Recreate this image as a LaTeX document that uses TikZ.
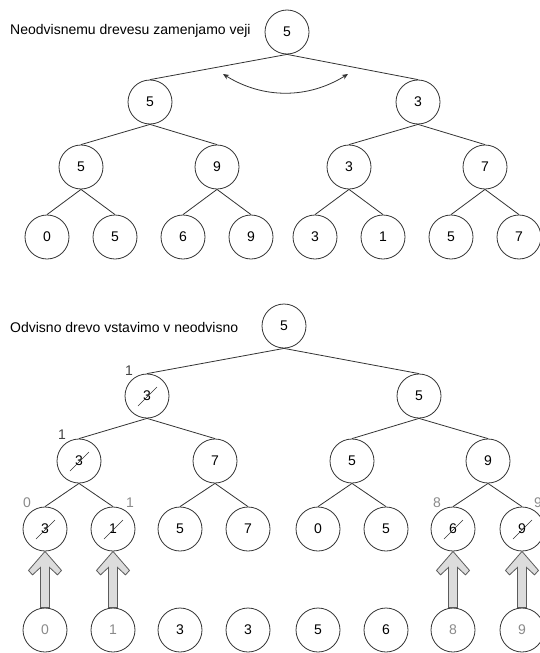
\documentclass[tikz,border=0pt]{standalone}
\usepackage{fontspec}
\setmainfont{Liberation Sans}
\usetikzlibrary{arrows.meta,calc}
\definecolor{linec}{HTML}{333333}
\definecolor{grayt}{HTML}{8A8A8A}
\definecolor{lblc}{HTML}{444444}
\definecolor{arrfill}{HTML}{DCDCDC}
\newcommand\strikeit[1]{\draw[strk] ($(#1)+(-9,10)$) -- ($(#1)+(10,-9)$);}
\newcommand\blockarr[2]{\draw[blk] (#1.south) -- ++(16.5,19) -- ++(-4,4.5) -- ++(-8,-7.5) -- ($(#2.north)+(4.5,0)$) -- ++(-9,0) -- ($(#1.south)+(-4.5,16)$) -- ++(-8,7.5) -- ++(-4,-4.5) -- cycle;}
\begin{document}
\begin{tikzpicture}[x=1pt,y=-1pt,
  nd/.style={circle,draw=linec,line width=0.8pt,minimum size=44pt,inner sep=0pt,font=\fontsize{14}{16}\selectfont,text=black},
  gnd/.style={nd,text=grayt},
  edge/.style={draw=linec,line width=0.8pt},
  strk/.style={draw=linec,line width=0.5pt},
  lbl/.style={font=\fontsize{14}{16}\selectfont,inner sep=0pt},
  title/.style={font=\fontsize{14}{16}\selectfont,anchor=west,inner sep=0pt,text=black},
  blk/.style={draw=linec!80,line width=0.8pt,fill=arrfill,line join=miter},
  swap/.style={draw=linec,line width=0.8pt,{Stealth[length=6pt,width=5pt]}-{Stealth[length=6pt,width=5pt]}}
]
\useasboundingbox (0,0) rectangle (540,653);
% ---------- top tree ----------
\node[title] (txt1) at (10,31) {Neodvisnemu drevesu zamenjamo veji};
\node[nd] (t0) at (287,32) {5};
\node[nd] (t1a) at (150,102) {5};
\node[nd] (t1b) at (418,102) {3};
\node[nd] (t2a) at (81,167) {5};
\node[nd] (t2b) at (217,167) {9};
\node[nd] (t2c) at (349,167) {3};
\node[nd] (t2d) at (485,167) {7};
\node[nd] (t3a) at (47,237) {0};
\node[nd] (t3b) at (115,237) {5};
\node[nd] (t3c) at (183,237) {6};
\node[nd] (t3d) at (251,237) {9};
\node[nd] (t3e) at (315,237) {3};
\node[nd] (t3f) at (383,237) {1};
\node[nd] (t3g) at (451,237) {5};
\node[nd] (t3h) at (519,237) {7};
\draw[edge] (t0.south) -- (t1a.north);
\draw[edge] (t0.south) -- (t1b.north);
\draw[edge] (t1a.south) -- (t2a.north);
\draw[edge] (t1a.south) -- (t2b.north);
\draw[edge] (t1b.south) -- (t2c.north);
\draw[edge] (t1b.south) -- (t2d.north);
\draw[edge] (t2a.south) -- (t3a.north);
\draw[edge] (t2a.south) -- (t3b.north);
\draw[edge] (t2b.south) -- (t3c.north);
\draw[edge] (t2b.south) -- (t3d.north);
\draw[edge] (t2c.south) -- (t3e.north);
\draw[edge] (t2c.south) -- (t3f.north);
\draw[edge] (t2d.south) -- (t3g.north);
\draw[edge] (t2d.south) -- (t3h.north);
\coordinate (s1) at (223,74);
\coordinate (s2) at (348,74);
\draw[swap] (s1) .. controls ($(s1)+(40,25)$) and ($(s2)+(-40,25)$) .. (s2);
% ---------- bottom tree ----------
\node[title] (txt2) at (10,327) {Odvisno drevo vstavimo v neodvisno};
\node[nd] (b0) at (284,326) {5};
\node[nd] (b1a) at (147,396) {3};
\node[nd] (b1b) at (419,396) {5};
\node[nd] (b2a) at (79,461) {3};
\node[nd] (b2b) at (215,461) {7};
\node[nd] (b2c) at (352,461) {5};
\node[nd] (b2d) at (488,461) {9};
\node[nd] (b3a) at (45,529) {3};
\node[nd] (b3b) at (113,529) {1};
\node[nd] (b3c) at (180,529) {5};
\node[nd] (b3d) at (248,529) {7};
\node[nd] (b3e) at (318,529) {0};
\node[nd] (b3f) at (386,529) {5};
\node[nd] (b3g) at (453,529) {6};
\node[nd] (b3h) at (522,529) {9};
\draw[edge] (b0.south) -- (b1a.north);
\draw[edge] (b0.south) -- (b1b.north);
\draw[edge] (b1a.south) -- (b2a.north);
\draw[edge] (b1a.south) -- (b2b.north);
\draw[edge] (b1b.south) -- (b2c.north);
\draw[edge] (b1b.south) -- (b2d.north);
\draw[edge] (b2a.south) -- (b3a.north);
\draw[edge] (b2a.south) -- (b3b.north);
\draw[edge] (b2b.south) -- (b3c.north);
\draw[edge] (b2b.south) -- (b3d.north);
\draw[edge] (b2c.south) -- (b3e.north);
\draw[edge] (b2c.south) -- (b3f.north);
\draw[edge] (b2d.south) -- (b3g.north);
\draw[edge] (b2d.south) -- (b3h.north);
\strikeit{b1a.center}
\strikeit{b2a.center}
\strikeit{b3a.center}
\strikeit{b3b.center}
\strikeit{b3g.center}
\strikeit{b3h.center}
% labels
\node[lbl,text=lblc] (l1) at (129,371) {1};
\node[lbl,text=lblc] (l2) at (62,435) {1};
\node[lbl,text=grayt] (l3) at (27,503) {0};
\node[lbl,text=grayt] (l4) at (130,503) {1};
\node[lbl,text=grayt] (l5) at (437,503) {8};
\node[lbl,text=grayt] (l6) at (538,503) {9};
% bottom row
\node[gnd] (r1) at (45,630) {0};
\node[gnd] (r2) at (113,630) {1};
\node[nd] (r3) at (180,630) {3};
\node[nd] (r4) at (248,630) {3};
\node[nd] (r5) at (318,630) {5};
\node[nd] (r6) at (386,630) {6};
\node[gnd] (r7) at (453,630) {8};
\node[gnd] (r8) at (522,630) {9};
\blockarr{b3a}{r1}
\blockarr{b3b}{r2}
\blockarr{b3g}{r7}
\blockarr{b3h}{r8}
\end{tikzpicture}
\end{document}
